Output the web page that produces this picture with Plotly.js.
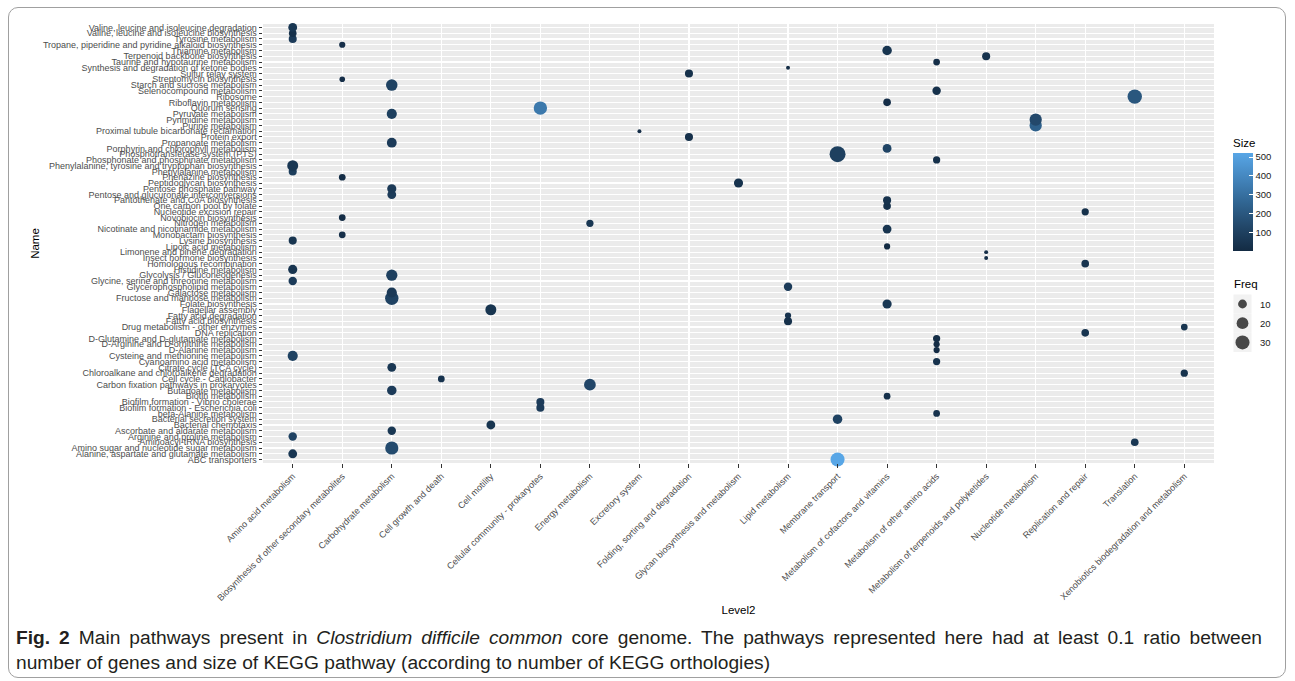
<!DOCTYPE html>
<html>
<head>
<meta charset="utf-8">
<script src="https://cdn.plot.ly/plotly-3.0.1.min.js"></script>
<style>
  html, body { margin: 0; padding: 0; background: #ffffff; }
  #frame { position: absolute; left: 8px; top: 7px; width: 1278px; height: 671px;
           border: 1px solid #a0a0a0; border-radius: 10px; box-sizing: border-box; }
  #chart { position: absolute; left: 0; top: 0; width: 1295px; height: 681px; }
  .cap { position: absolute; left: 16px; width: 1246px; font-family: 'Liberation Sans', Arial, sans-serif;
         font-size: 19.2px; line-height: 24px; color: #231F20; white-space: nowrap; }
  #cap1 { top: 626px; text-align: justify; text-align-last: justify; }
  #cap2 { top: 651px; text-align: left; }
</style>
</head>
<body>
<div id="frame"></div>
<div id="chart"></div>
<div class="cap" id="cap1"><b>Fig. 2</b> Main pathways present in <i>Clostridium difficile common</i> core genome. The pathways represented here had at least 0.1 ratio between</div>
<div class="cap" id="cap2">number of genes and size of KEGG pathway (according to number of KEGG orthologies)</div>
<script>
// ---- Data ----
const level2 = [
  "Amino acid metabolism", "Biosynthesis of other secondary metabolites", "Carbohydrate metabolism",
  "Cell growth and death", "Cell motility", "Cellular community - prokaryotes", "Energy metabolism",
  "Excretory system", "Folding, sorting and degradation", "Glycan biosynthesis and metabolism",
  "Lipid metabolism", "Membrane transport", "Metabolism of cofactors and vitamins",
  "Metabolism of other amino acids", "Metabolism of terpenoids and polyketides",
  "Nucleotide metabolism", "Replication and repair", "Translation",
  "Xenobiotics biodegradation and metabolism"
];

// pathway names, bottom -> top (as on the axis)
const names = [
  "ABC transporters",
  "Alanine, aspartate and glutamate metabolism",
  "Amino sugar and nucleotide sugar metabolism",
  "Aminoacyl-tRNA biosynthesis",
  "Arginine and proline metabolism",
  "Ascorbate and aldarate metabolism",
  "Bacterial chemotaxis",
  "Bacterial secretion system",
  "beta-Alanine metabolism",
  "Biofilm formation - Escherichia coli",
  "Biofilm formation - Vibrio cholerae",
  "Biotin metabolism",
  "Butanoate metabolism",
  "Carbon fixation pathways in prokaryotes",
  "Cell cycle - Caulobacter",
  "Chloroalkane and chloroalkene degradation",
  "Citrate cycle (TCA cycle)",
  "Cyanoamino acid metabolism",
  "Cysteine and methionine metabolism",
  "D-Alanine metabolism",
  "D-Arginine and D-ornithine metabolism",
  "D-Glutamine and D-glutamate metabolism",
  "DNA replication",
  "Drug metabolism - other enzymes",
  "Fatty acid biosynthesis",
  "Fatty acid degradation",
  "Flagellar assembly",
  "Folate biosynthesis",
  "Fructose and mannose metabolism",
  "Galactose metabolism",
  "Glycerophospholipid metabolism",
  "Glycine, serine and threonine metabolism",
  "Glycolysis / Gluconeogenesis",
  "Histidine metabolism",
  "Homologous recombination",
  "Insect hormone biosynthesis",
  "Limonene and pinene degradation",
  "Lipoic acid metabolism",
  "Lysine biosynthesis",
  "Monobactam biosynthesis",
  "Nicotinate and nicotinamide metabolism",
  "Nitrogen metabolism",
  "Novobiocin biosynthesis",
  "Nucleotide excision repair",
  "One carbon pool by folate",
  "Pantothenate and CoA biosynthesis",
  "Pentose and glucuronate interconversions",
  "Pentose phosphate pathway",
  "Peptidoglycan biosynthesis",
  "Phenazine biosynthesis",
  "Phenylalanine metabolism",
  "Phenylalanine, tyrosine and tryptophan biosynthesis",
  "Phosphonate and phosphinate metabolism",
  "Phosphotransferase system (PTS)",
  "Porphyrin and chlorophyll metabolism",
  "Propanoate metabolism",
  "Protein export",
  "Proximal tubule bicarbonate reclamation",
  "Purine metabolism",
  "Pyrimidine metabolism",
  "Pyruvate metabolism",
  "Quorum sensing",
  "Riboflavin metabolism",
  "Ribosome",
  "Selenocompound metabolism",
  "Starch and sucrose metabolism",
  "Streptomycin biosynthesis",
  "Sulfur relay system",
  "Synthesis and degradation of ketone bodies",
  "Taurine and hypotaurine metabolism",
  "Terpenoid backbone biosynthesis",
  "Thiamine metabolism",
  "Tropane, piperidine and pyridine alkaloid biosynthesis",
  "Tyrosine metabolism",
  "Valine, leucine and isoleucine biosynthesis",
  "Valine, leucine and isoleucine degradation"
];

const pathLevel2 = [
  "Membrane transport",
  "Amino acid metabolism",
  "Carbohydrate metabolism",
  "Translation",
  "Amino acid metabolism",
  "Carbohydrate metabolism",
  "Cell motility",
  "Membrane transport",
  "Metabolism of other amino acids",
  "Cellular community - prokaryotes",
  "Cellular community - prokaryotes",
  "Metabolism of cofactors and vitamins",
  "Carbohydrate metabolism",
  "Energy metabolism",
  "Cell growth and death",
  "Xenobiotics biodegradation and metabolism",
  "Carbohydrate metabolism",
  "Metabolism of other amino acids",
  "Amino acid metabolism",
  "Metabolism of other amino acids",
  "Metabolism of other amino acids",
  "Metabolism of other amino acids",
  "Replication and repair",
  "Xenobiotics biodegradation and metabolism",
  "Lipid metabolism",
  "Lipid metabolism",
  "Cell motility",
  "Metabolism of cofactors and vitamins",
  "Carbohydrate metabolism",
  "Carbohydrate metabolism",
  "Lipid metabolism",
  "Amino acid metabolism",
  "Carbohydrate metabolism",
  "Amino acid metabolism",
  "Replication and repair",
  "Metabolism of terpenoids and polyketides",
  "Metabolism of terpenoids and polyketides",
  "Metabolism of cofactors and vitamins",
  "Amino acid metabolism",
  "Biosynthesis of other secondary metabolites",
  "Metabolism of cofactors and vitamins",
  "Energy metabolism",
  "Biosynthesis of other secondary metabolites",
  "Replication and repair",
  "Metabolism of cofactors and vitamins",
  "Metabolism of cofactors and vitamins",
  "Carbohydrate metabolism",
  "Carbohydrate metabolism",
  "Glycan biosynthesis and metabolism",
  "Biosynthesis of other secondary metabolites",
  "Amino acid metabolism",
  "Amino acid metabolism",
  "Metabolism of other amino acids",
  "Membrane transport",
  "Metabolism of cofactors and vitamins",
  "Carbohydrate metabolism",
  "Folding, sorting and degradation",
  "Excretory system",
  "Nucleotide metabolism",
  "Nucleotide metabolism",
  "Carbohydrate metabolism",
  "Cellular community - prokaryotes",
  "Metabolism of cofactors and vitamins",
  "Translation",
  "Metabolism of other amino acids",
  "Carbohydrate metabolism",
  "Biosynthesis of other secondary metabolites",
  "Folding, sorting and degradation",
  "Lipid metabolism",
  "Metabolism of other amino acids",
  "Metabolism of terpenoids and polyketides",
  "Metabolism of cofactors and vitamins",
  "Biosynthesis of other secondary metabolites",
  "Amino acid metabolism",
  "Amino acid metabolism",
  "Amino acid metabolism"
];

// number of genes found (Freq)
const freq = [
  30, 10, 26, 7, 9, 9, 10, 12, 5, 8,
  8, 5, 12, 20, 5, 6, 10, 6, 14, 4,
  4, 6, 7, 5, 8, 4, 17, 11, 27, 14,
  9, 9, 18, 11, 7, 1, 1, 4, 8, 5,
  10, 6, 5, 6, 7, 8, 10, 11, 11, 5,
  8, 17, 6, 40, 10, 13, 8, 1, 22, 22,
  14, 27, 7, 32, 9, 19, 3, 8, 1, 5,
  8, 12, 4, 8, 7, 10
];

// size of KEGG pathway (Size)
const pathSize = [
  523, 60, 150, 60, 110, 60, 50, 110, 40, 80,
  80, 30, 80, 130, 40, 40, 60, 40, 110, 10,
  10, 15, 50, 50, 30, 40, 50, 60, 110, 70,
  80, 80, 100, 50, 50, 20, 20, 4, 50, 20,
  50, 60, 15, 30, 30, 40, 80, 70, 40, 15,
  90, 60, 30, 100, 120, 80, 30, 20, 240, 140,
  100, 340, 20, 200, 30, 110, 20, 30, 10, 20,
  40, 50, 20, 80, 30, 60
];

const freqBreaks = [10, 20, 30];
const sizeBreaks = [100, 200, 300, 400, 500];

// ---- scales ----
function diam(f) { return 1.7 + 2.25 * Math.sqrt(f); }
const sizeMin = Math.min(...pathSize), sizeMax = Math.max(...pathSize);
const blues = [[0, '#132B43'], [0.25, '#224769'], [0.5, '#316693'], [0.75, '#4486BE'], [1, '#58A6E6']];

// ---- layout geometry (pixels) ----
const W = 1295, H = 681;
const mL = 263, mR = 10, mT = 24, mB = 218;
const paperW = W - mL - mR, paperH = H - mT - mB;
const panelRight = 1214;
const xDom = (panelRight - mL) / paperW;
const px2x = p => (p - mL) / paperW;
const px2y = p => 1 - (p - mT) / paperH;

const FONT = 'Liberation Sans, Arial, sans-serif';

const main = {
  type: 'scatter', mode: 'markers',
  x: pathLevel2, y: names,
  xaxis: 'x', yaxis: 'y',
  marker: {
    size: freq.map(diam),
    sizemode: 'diameter',
    color: pathSize,
    cmin: sizeMin, cmax: sizeMax,
    colorscale: blues,
    showscale: true,
    line: { width: 0 },
    opacity: 1,
    colorbar: {
      x: px2x(1233), xanchor: 'left', xpad: 0,
      y: px2y(250.7), yanchor: 'bottom', ypad: 0,
      len: 115, lenmode: 'pixels', thickness: 20, thicknessmode: 'pixels',
      outlinewidth: 0,
      tickvals: sizeBreaks, ticks: 'inside', ticklen: 4, tickcolor: '#ffffff', tickwidth: 1,
      tickfont: { family: FONT, size: 9.5, color: '#1a1a1a' },
      title: { text: 'Size', side: 'top', font: { family: FONT, size: 11.5, color: '#000' } }
    }
  },
  cliponaxis: false,
  showlegend: false,
  hovertemplate: '%{y}<br>%{x}<br>Freq %{customdata[0]}<br>Size %{customdata[1]}<extra></extra>',
  customdata: freq.map((f, i) => [f, pathSize[i]])
};

// Freq legend keys
const keyX = 1242.5;
const keyY0 = 304, keyStep = 19.2;
const keyYs = freqBreaks.map((_, i) => keyY0 + i * keyStep);
const legendTrace = {
  type: 'scatter', mode: 'markers',
  x: freqBreaks.map(() => keyX), y: keyYs,
  xaxis: 'x2', yaxis: 'y2',
  marker: { size: freqBreaks.map(diam), color: '#000000', line: { width: 0 } },
  cliponaxis: false, showlegend: false, hoverinfo: 'skip'
};

const shapes = [
  { type: 'rect', xref: 'paper', yref: 'paper', x0: 0, x1: xDom, y0: 0, y1: 1,
    fillcolor: '#EBEBEB', line: { width: 0 }, layer: 'below' }
];
freqBreaks.forEach((_, i) => {
  shapes.push({ type: 'rect', xref: 'x2', yref: 'y2',
    x0: 1233.5, x1: 1251.5, y0: keyYs[i] - keyStep / 2, y1: keyYs[i] + keyStep / 2,
    fillcolor: '#F2F2F2', line: { width: 0 }, layer: 'below' });
});

const annotations = [];
freqBreaks.forEach((b, i) => {
  annotations.push({ xref: 'x2', yref: 'y2', x: 1258, y: keyYs[i], text: String(b),
    showarrow: false, xanchor: 'left', yanchor: 'middle',
    font: { family: FONT, size: 9.5, color: '#1a1a1a' } });
});
annotations.push({ xref: 'x2', yref: 'y2', x: 1232, y: 284, text: 'Freq', showarrow: false,
  xanchor: 'left', yanchor: 'middle', font: { family: FONT, size: 11.5, color: '#000' } });

const layout = {
  width: W, height: H,
  margin: { l: mL, r: mR, t: mT, b: mB, pad: 0 },
  paper_bgcolor: 'rgba(0,0,0,0)',
  plot_bgcolor: 'rgba(0,0,0,0)',
  font: { family: FONT, color: '#000' },
  showlegend: false,
  xaxis: {
    domain: [0, xDom], type: 'category',
    categoryorder: 'array', categoryarray: level2,
    tickmode: 'array', tickvals: level2, ticktext: level2,
    range: [-0.6, level2.length - 1 + 0.6], fixedrange: true,
    showgrid: true, gridcolor: '#ffffff', gridwidth: 1.1,
    showline: false, zeroline: false,
    ticks: 'outside', ticklen: 3.5, tickwidth: 1, tickcolor: '#333333',
    tickangle: -45,
    tickfont: { family: FONT, size: 9, color: '#4D4D4D' },
    title: { text: 'Level2', font: { family: FONT, size: 11.5, color: '#000' }, standoff: 4 },
    automargin: false
  },
  yaxis: {
    domain: [0, 1], type: 'category',
    categoryorder: 'array', categoryarray: names,
    tickmode: 'array', tickvals: names, ticktext: names,
    range: [-0.6, names.length - 1 + 0.6], fixedrange: true,
    showgrid: true, gridcolor: '#ffffff', gridwidth: 1.1,
    showline: false, zeroline: false,
    ticks: 'outside', ticklen: 3.5, tickwidth: 1, tickcolor: '#333333',
    tickfont: { family: FONT, size: 9, color: '#4D4D4D' },
    title: { text: 'Name', font: { family: FONT, size: 11.5, color: '#000' }, standoff: 0 },
    automargin: false
  },
  xaxis2: {
    domain: [0.94, 1], anchor: 'y2', range: [mL + 0.94 * paperW, mL + paperW],
    visible: false, fixedrange: true
  },
  yaxis2: {
    domain: [0, 1], anchor: 'x2', range: [mT + paperH, mT],
    visible: false, fixedrange: true
  },
  shapes: shapes,
  annotations: annotations
};

Plotly.newPlot('chart', [main, legendTrace], layout, { displayModeBar: false, staticPlot: true });
</script>
</body>
</html>
